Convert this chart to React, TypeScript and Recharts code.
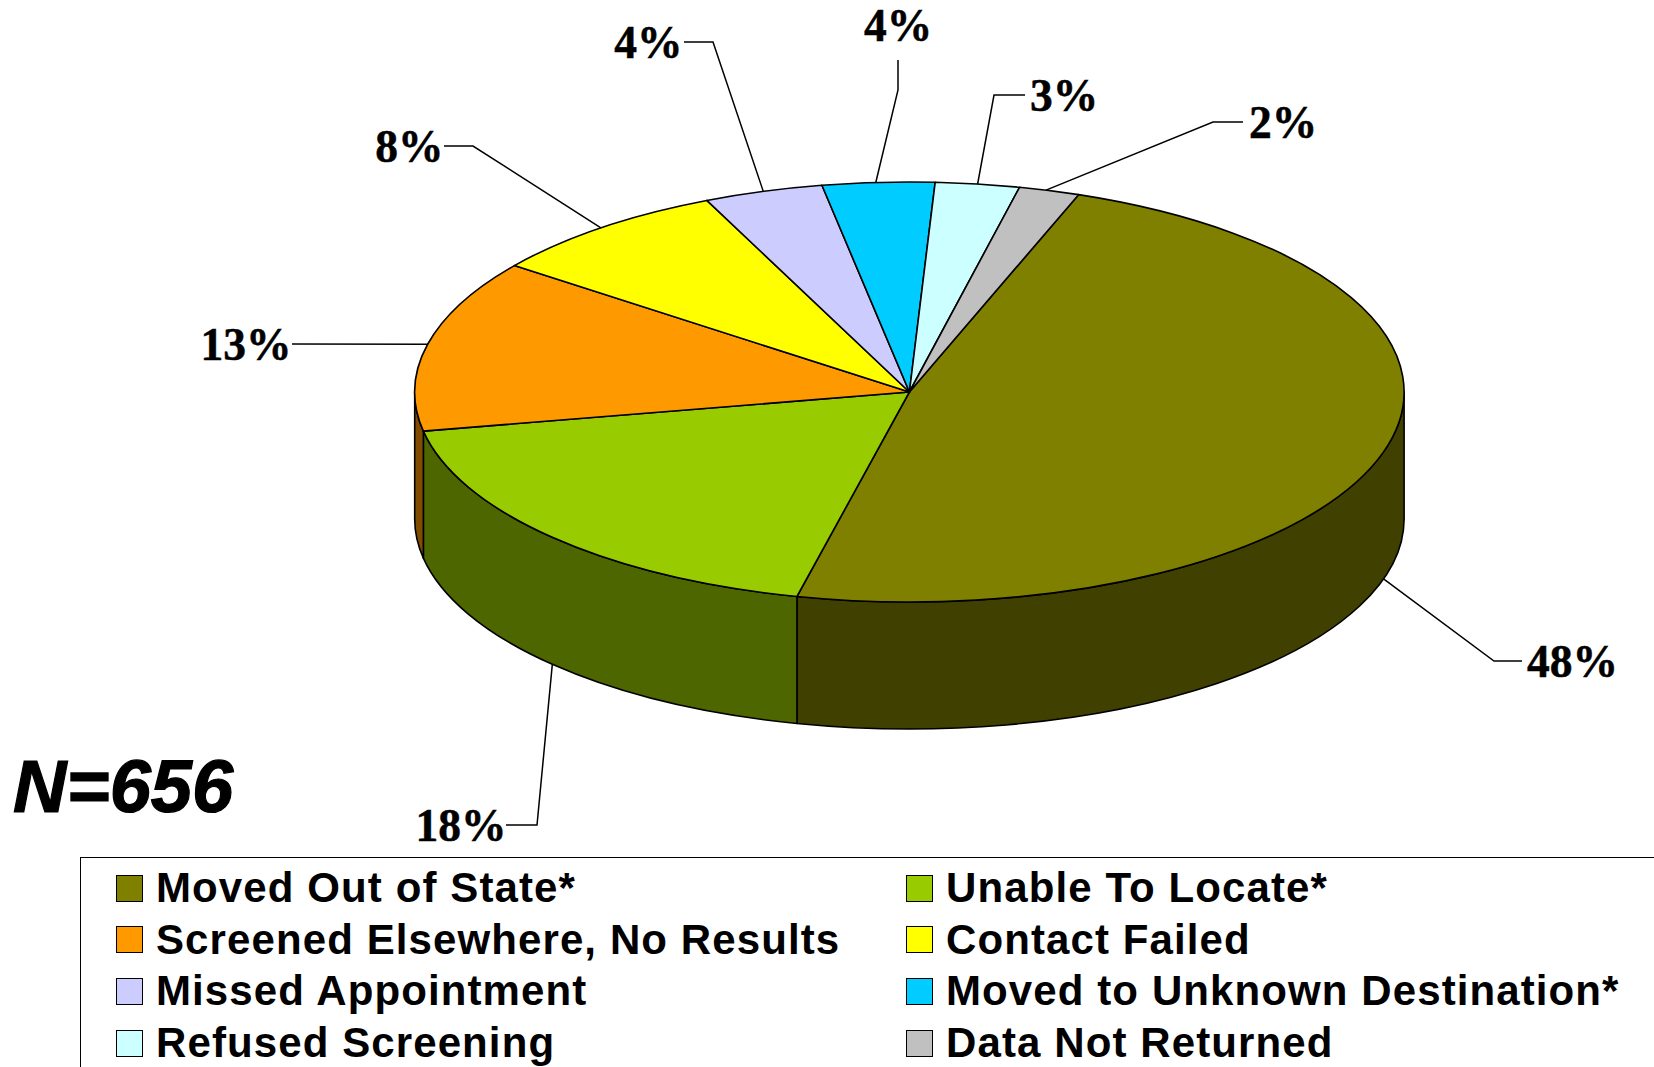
import React from "react";
import { PieChart, Pie, Legend } from "recharts";

const categories = [
  "Moved Out of State*",
  "Unable To Locate*",
  "Screened Elsewhere, No Results",
  "Contact Failed",
  "Missed Appointment",
  "Moved to Unknown Destination*",
  "Refused Screening",
  "Data Not Returned",
];
const counts = [315.5, 120.5, 87, 52.5, 25.5, 24, 18, 13];
const topColors = ["#808000", "#99CC00", "#FF9900", "#FFFF00", "#CCCCFF", "#00CCFF", "#CCFFFF", "#C0C0C0"];
const sideColors = ["#404000", "#4D6600", "#804D00", "#808000", "#666680", "#006680", "#668080", "#606060"];
// leader-line start nudge (degrees along the rim), elbow, line end, text anchor point, text alignment
const labelAngleShifts = [0, 0, 0, 0, 0, 0.3, 0, 0.4];
const labelElbows = [[1494, 661], [537, 825], [292, 344], [473, 146], [713, 42], [898, 90], [994, 95], [1213, 122]];
const labelLineEnds = [[1522, 661], [506, 825], [292, 344], [444, 146], [684, 42], [898, 60], [1025, 95], [1243, 122]];
const labelAnchors = [[1527, 661], [503.5, 825], [288.5, 344], [440.5, 146], [679.5, 42], [898, 25], [1030, 95], [1249, 122]];
const labelAligns = ["start", "end", "end", "end", "end", "middle", "start", "start"];

const tableData = categories.map((name, i) => ({ name, value: counts[i], fill: topColors[i], side: sideColors[i] }));

const WIDTH = 1654;
const HEIGHT = 1067;
const CX = 909.4;
const CY = 392;
const RX = 494.7;
const RY = 210;
const DEPTH = 127;
const RAD = Math.PI / 180;

const rim = (cx: number, cy: number, r: number, a: number, dy = 0) => {
  const k = RY / RX;
  return [cx + r * Math.cos(a * RAD), cy - r * k * Math.sin(a * RAD) + dy];
};

const Slice3D = (props: any) => {
  const { cx, cy, outerRadius: r, startAngle, endAngle, fill, side } = props;
  const ry = (r * RY) / RX;
  const [sx, sy] = rim(cx, cy, r, startAngle);
  const [ex, ey] = rim(cx, cy, r, endAngle);
  const large = Math.abs(startAngle - endAngle) > 180 ? 1 : 0;
  const top = `M${cx},${cy}L${sx},${sy}A${r},${ry} 0 ${large} 1 ${ex},${ey}Z`;
  const a1 = Math.min(startAngle, 0);
  const a2 = Math.max(endAngle, -180);
  let wall: string | null = null;
  if (a1 > a2) {
    const [x1, y1] = rim(cx, cy, r, a1);
    const [x2, y2] = rim(cx, cy, r, a2);
    wall =
      `M${x1},${y1}A${r},${ry} 0 0 1 ${x2},${y2}` +
      `L${x2},${y2 + DEPTH}A${r},${ry} 0 0 0 ${x1},${y1 + DEPTH}Z`;
  }
  return (
    <g>
      {wall && <path d={wall} fill={side} stroke="#000" strokeWidth={1.6} strokeLinejoin="round" />}
      <path d={top} fill={fill} stroke="#000" strokeWidth={1.6} strokeLinejoin="round" />
    </g>
  );
};

const renderLabel = (props: any) => {
  const { cx, cy, outerRadius: r, midAngle, percent, index } = props;
  const front = Math.sin(midAngle * RAD) < 0;
  const [ax, ay] = rim(cx, cy, r, midAngle + labelAngleShifts[index], front ? DEPTH : 0);
  const [bx, by] = labelElbows[index];
  const [ex, ey] = labelLineEnds[index];
  const [tx, ty] = labelAnchors[index];
  return (
    <g key={index}>
      <polyline points={`${ax},${ay} ${bx},${by} ${ex},${ey}`} fill="none" stroke="#000" strokeWidth={1.5} />
      <text
        x={tx + (labelAligns[index] === "end" ? 3 : 0)}
        y={ty}
        textAnchor={labelAligns[index] as any}
        dominantBaseline="central"
        fontFamily="'Liberation Serif', serif"
        fontWeight="bold"
        fontSize={45.5}
        stroke="#000"
        strokeWidth={0.5}
        fill="#000"
      >
        {Math.round(percent * 100)}%
      </text>
    </g>
  );
};

const LegendBox = ({ payload }: any) => (
  <div
    style={{
      position: "relative",
      width: WIDTH - 80,
      height: HEIGHT - 857,
      boxSizing: "border-box",
      borderTop: "1.5px solid #000",
      borderLeft: "1.5px solid #000",
      background: "#fff",
    }}
  >
    {(payload || []).map((p: any, i: number) => {
      const col = i % 2;
      const row = Math.floor(i / 2);
      return (
        <div
          key={p.value}
          style={{
            position: "absolute",
            left: col === 0 ? 35 : 825,
            top: 4 + row * 51.7,
            height: 52,
            display: "flex",
            alignItems: "center",
            whiteSpace: "nowrap",
          }}
        >
          <span
            style={{
              width: 27,
              height: 27,
              boxSizing: "border-box",
              background: p.color,
              border: "1.5px solid #000",
              marginRight: 13,
              flex: "none",
            }}
          />
          <span
            style={{
              fontFamily: "'Liberation Sans', Arial, sans-serif",
              fontWeight: "bold",
              fontSize: 42,
              letterSpacing: 1.1,
              color: "#000",
            }}
          >
            {p.value}
          </span>
        </div>
      );
    })}
  </div>
);

export default function App() {
  return (
    <div style={{ position: "absolute", left: 0, top: 0, width: WIDTH, height: HEIGHT, overflow: "hidden", background: "#fff" }}>
      <PieChart width={WIDTH} height={HEIGHT} margin={{ top: 0, right: 0, bottom: 0, left: 0 }}>
        <Pie
          data={tableData}
          dataKey="value"
          nameKey="name"
          cx={CX}
          cy={CY}
          innerRadius={0}
          outerRadius={RX}
          startAngle={70}
          endAngle={-290}
          paddingAngle={0}
          isAnimationActive={false}
          shape={Slice3D}
          label={renderLabel}
          labelLine={false}
        />
        <Legend
          itemSorter={null}
          content={<LegendBox />}
          wrapperStyle={{ position: "absolute", left: 80, top: 857, width: WIDTH - 80, height: HEIGHT - 857, bottom: "auto", right: "auto" }}
        />
        <text
          x={13}
          y={812}
          fontFamily="'Liberation Sans', Arial, sans-serif"
          fontWeight="bold"
          fontStyle="italic"
          fontSize={74}
          stroke="#000"
          strokeWidth={1.2}
          fill="#000"
        >
          N=656
        </text>
      </PieChart>
    </div>
  );
}
